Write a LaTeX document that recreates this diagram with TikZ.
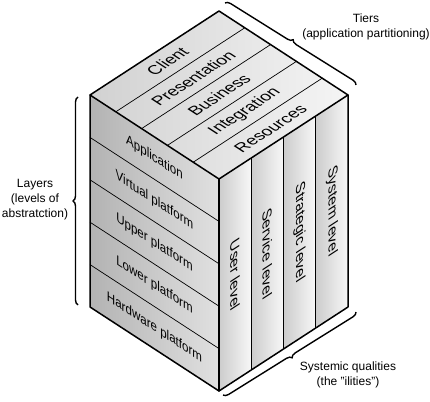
\documentclass[tikz,border=0pt]{standalone}
\usepackage{fontspec}
\setmainfont{Liberation Sans}
\usetikzlibrary{decorations.pathreplacing,calc}
\definecolor{faceL}{gray}{0.70}
\definecolor{faceLr}{gray}{0.88}
\definecolor{faceT}{gray}{0.82}
\definecolor{faceTr}{gray}{0.96}
\definecolor{faceR}{gray}{0.80}
\definecolor{faceRr}{gray}{0.97}
\begin{document}
\begin{tikzpicture}[x=1pt,y=1pt,
  edge/.style={line width=1.5pt, line join=round, line cap=round},
  divline/.style={line width=0.7pt},
  brc/.style={decorate, decoration={brace, amplitude=5pt}, line width=1.4pt},
  toplbl/.style={cm={0.838,0.545,-0.838,0.545,(0,0)}, font=\fontsize{16.5}{16.5}\selectfont, inner sep=0pt},
  leftlbl/.style={cm={0.838,-0.545,0,1,(0,0)}, font=\fontsize{13.8}{13.8}\selectfont, inner sep=0pt},
  rightlbl/.style={cm={0,-1,0.838,0.545,(0,0)}, font=\fontsize{15.6}{15.6}\selectfont, inner sep=0pt},
  sidelbl/.style={align=center, font=\fontsize{12}{15}\selectfont, inner sep=0pt}
]
\useasboundingbox (0,0) rectangle (430,401);
% cube corners
\coordinate (L) at (90,306);
\coordinate (T) at (219,390);
\coordinate (R) at (348,306);
\coordinate (F) at (219,222);
\coordinate (LB) at (90,94);
\coordinate (FB) at (219,10);
\coordinate (RB) at (348,94);

% top face
\shade[left color=faceT, right color=faceTr] (L) -- (T) -- (R) -- (F) -- cycle;
% left face
\shade[shading angle=70, left color=faceL, right color=faceLr] (L) -- (F) -- (FB) -- (LB) -- cycle;
% right face stripes
\foreach \k in {0,1,2,3} {
  \shade[left color=faceR, right color=faceRr]
    ($(F)!\k/4!(R)$) -- ($(F)!{(\k+1)/4}!(R)$) -- ($(FB)!{(\k+1)/4}!(RB)$) -- ($(FB)!\k/4!(RB)$) -- cycle;
}

% dividers
\foreach \i in {1,2,3,4} {
  \draw[divline] ($(L)!\i/5!(F)$) -- ($(T)!\i/5!(R)$);
  \draw[divline] ($(L)!\i/5!(LB)$) -- ($(F)!\i/5!(FB)$);
}
\foreach \k in {1,2,3} {
  \draw[divline] ($(F)!\k/4!(R)$) -- ($(FB)!\k/4!(RB)$);
}

% outline
\draw[edge] (L) -- (T) -- (R) -- (RB) -- (FB) -- (LB) -- cycle;
\draw[edge] (L) -- (F) -- (R);
\draw[edge] (F) -- (FB);

% top labels
\node[toplbl] (client) at (167.4,339.6) {Client};
\node[toplbl] (pres) at (193.2,322.8) {Presentation};
\node[toplbl] (bus) at (219,306) {Business};
\node[toplbl] (integ) at (244.8,289.2) {Integration};
\node[toplbl] (res) at (270.6,272.4) {Resources};

% left labels
\node[leftlbl] (app) at (154.5,242.8) {Application};
\node[leftlbl] (virt) at (154.5,200.4) {Virtual platform};
\node[leftlbl] (upper) at (154.5,158) {Upper platform};
\node[leftlbl] (lower) at (154.5,115.6) {Lower platform};
\node[leftlbl] (hw) at (154.5,73.2) {Hardware platform};

% right labels
\node[rightlbl] (user) at (235.1,126.5) {User level};
\node[rightlbl] (serv) at (267.4,147.5) {Service level};
\node[rightlbl] (strat) at (299.6,168.5) {Strategic level};
\node[rightlbl] (sys) at (331.9,189.5) {System level};

% braces
\coordinate (tb1) at (225,398);
\coordinate (tb2) at (356,316);
\coordinate (lb1) at (78,96);
\coordinate (lb2) at (78,304);
\coordinate (sb1) at (356,89);
\coordinate (sb2) at (223,6);
\draw[brc] (tb1) -- (tb2);
\draw[brc] (lb1) -- (lb2);
\draw[brc] (sb1) -- (sb2);

% side labels
\node[sidelbl] (tiers) at (366,374) {Tiers\\(application partitioning)};
\node[sidelbl] (layers) at (35,201) {Layers\\(levels of\\abstratction)};
\node[sidelbl] (sysq) at (348,26) {Systemic qualities\\(the "ilities")};
\end{tikzpicture}
\end{document}
